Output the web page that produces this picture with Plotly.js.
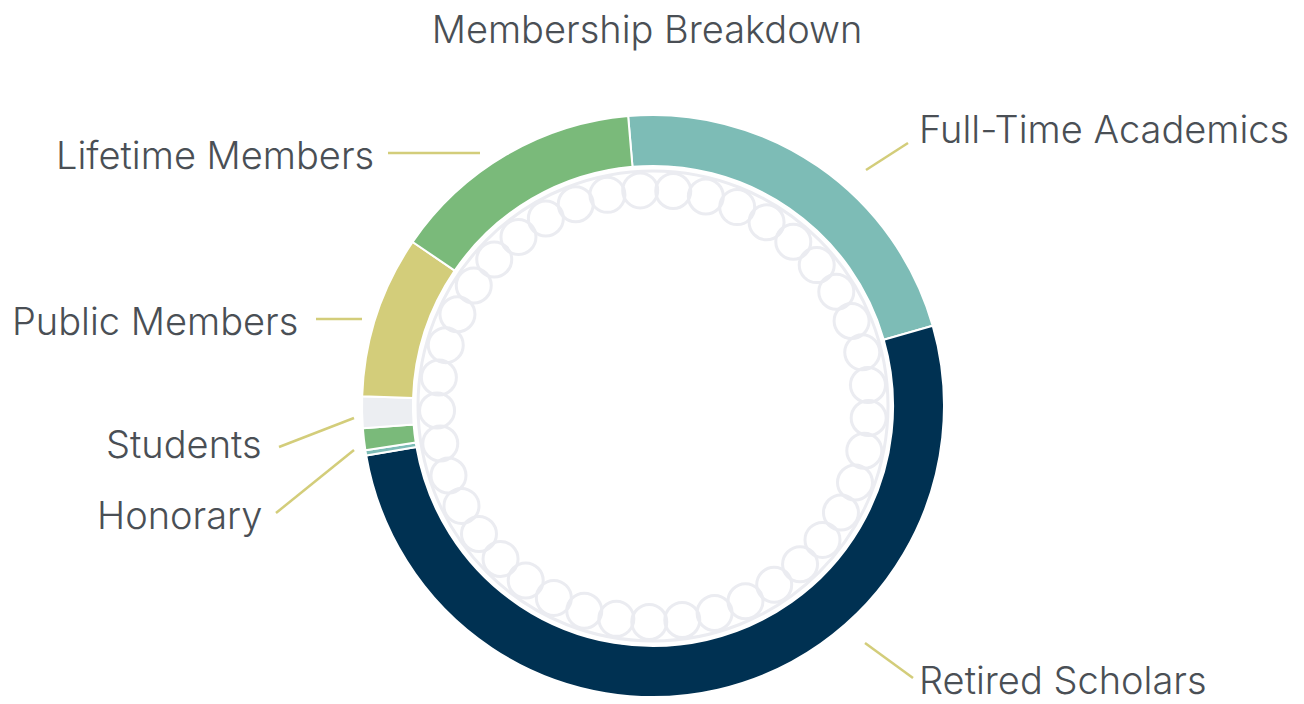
<!DOCTYPE html>
<html>
<head>
<meta charset="utf-8">
<script src="https://cdn.plot.ly/plotly-3.0.1.min.js"></script>
<style>html,body{margin:0;padding:0;background:#fff;}#chart{width:1304px;height:704px;}</style>
</head>
<body>
<div id="chart"></div>
<script>
// ---- data ----
var categories = ["Full-Time Academics", "Retired Scholars", "Honorary", "Other", "Students", "Public Members", "Lifetime Members"];
var shares = [21.9, 51.7, 0.3, 1.2, 1.75, 9.0, 14.1];
var sliceColors = ["#7dbcb6", "#003152", "#7dbcb6", "#7aba7a", "#eceef2", "#d3cd7a", "#7aba7a"];
var shownLabels = ["Full-Time Academics", "Retired Scholars", "Honorary", "Students", "Public Members", "Lifetime Members"];

// ---- layout geometry (pixels) ----
var W = 1304, H = 704;
var cx = 653, cy = 406, R = 291;
var textColor = "#4a4f55";
var lineColor = "#d3cd7a";
var fontFam = "Inter, Lato, 'Open Sans', sans-serif";
var fontSize = 38;

// label placements: text anchor point and leader line (pixel coordinates)
var labelPlacement = {
  "Full-Time Academics": {tx: 918, ty: 129, align: "left",  va: "middle", line: [866, 170, 908, 143]},
  "Retired Scholars":    {tx: 918, ty: 704, align: "left",  va: "bottom", line: [865, 643, 913, 678]},
  "Lifetime Members":    {tx: 375, ty: 155, align: "right", va: "middle", line: [388, 153, 480, 153]},
  "Public Members":      {tx: 299, ty: 321, align: "right", va: "middle", line: [316, 319, 362, 319]},
  "Students":            {tx: 263, ty: 444, align: "right", va: "middle", line: [279, 447, 354, 418]},
  "Honorary":            {tx: 263, ty: 515, align: "right", va: "middle", line: [276, 513, 354, 450]}
};

var pie = {
  type: "pie",
  labels: categories,
  values: shares,
  sort: false,
  direction: "clockwise",
  rotation: -4.9,
  hole: 0.825,
  textinfo: "none",
  hoverinfo: "label+percent",
  showlegend: false,
  marker: {colors: sliceColors, line: {color: "#ffffff", width: 2}},
  domain: {x: [(cx - R) / W, (cx + R) / W], y: [(H - cy - R) / H, (H - cy + R) / H]}
};

var dummy = {type: "scatter", x: [0], y: [0], mode: "markers", marker: {opacity: 0}, hoverinfo: "skip", showlegend: false};

var shapes = [];
// decorative ring of circles in the hole
var ringColor = "#ebecf1";
shapes.push({type: "circle", xref: "x", yref: "y", x0: cx - 235, x1: cx + 235, y0: cy - 235, y1: cy + 235,
  line: {color: ringColor, width: 3}, layer: "below"});
var nCircles = 41, rc = 216, cr = 17.5, startDeg = -3.4;
for (var i = 0; i < nCircles; i++) {
  var a = (startDeg * Math.PI / 180) + 2 * Math.PI * i / nCircles;
  var px = cx + rc * Math.sin(a), py = cy - rc * Math.cos(a);
  shapes.push({type: "circle", xref: "x", yref: "y", x0: px - cr, x1: px + cr, y0: py - cr, y1: py + cr,
    line: {color: ringColor, width: 3}, layer: "below"});
}

var annotations = [];
shownLabels.forEach(function (name) {
  var p = labelPlacement[name];
  shapes.push({type: "line", xref: "x", yref: "y", x0: p.line[0], y0: p.line[1], x1: p.line[2], y1: p.line[3],
    line: {color: lineColor, width: 2.5}});
  annotations.push({xref: "x", yref: "y", x: p.tx, y: p.ty, text: name, showarrow: false, borderpad: 0,
    xanchor: p.align, yanchor: p.va, font: {family: fontFam, size: fontSize, color: textColor, weight: 300}});
});

var layout = {
  width: W, height: H,
  margin: {l: 0, r: 0, t: 0, b: 0},
  paper_bgcolor: "#ffffff", plot_bgcolor: "#ffffff",
  title: {text: "Membership Breakdown", x: 647 / W, xanchor: "center", y: 1 - 30 / H, yanchor: "middle",
    font: {family: fontFam, size: fontSize, color: textColor, weight: 300}},
  xaxis: {range: [0, W], visible: false, fixedrange: true},
  yaxis: {range: [H, 0], visible: false, fixedrange: true},
  shapes: shapes,
  annotations: annotations,
  showlegend: false
};

Plotly.newPlot("chart", [dummy, pie], layout, {displayModeBar: false});
</script>
</body>
</html>
